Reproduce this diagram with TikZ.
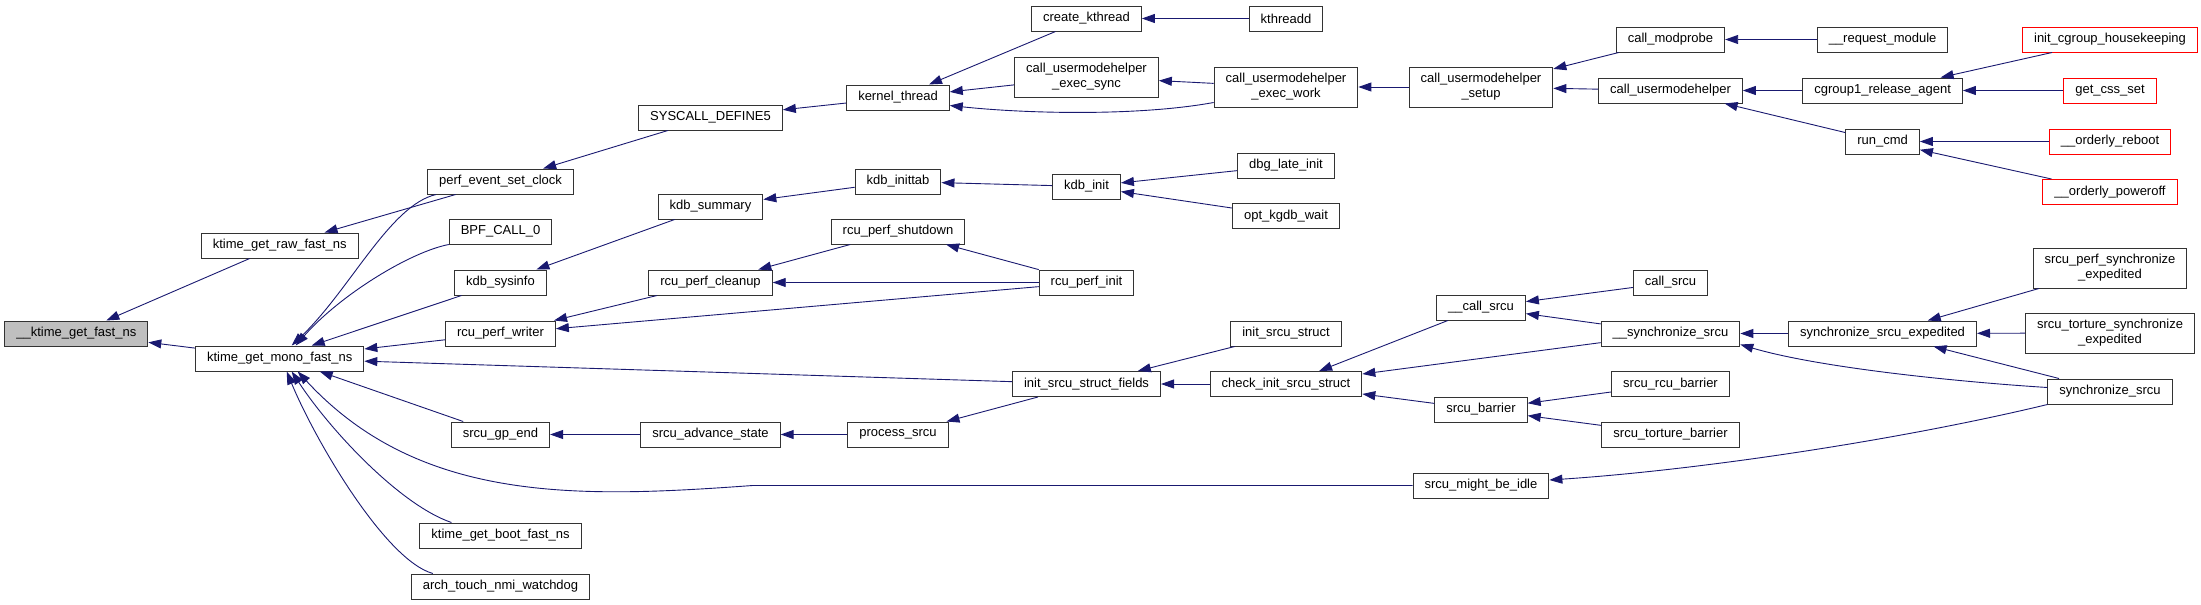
\documentclass[tikz,border=0pt]{standalone}
\usepackage{fontspec}
\setmainfont{Liberation Sans}
\usetikzlibrary{arrows.meta}
\definecolor{edgeblue}{RGB}{25,25,112}
\definecolor{rootgray}{RGB}{191,191,191}

\begin{document}
\begin{tikzpicture}[
            x=1pt, y=-1pt,
            fn/.style={rectangle, draw=black!80, line width=1pt, fill=white, minimum height=25pt, inner xsep=11.5pt, inner ysep=1pt, align=center, font=\fontsize{13}{15}\selectfont},
            root/.style={fn, fill=rootgray},
            trunc/.style={fn, draw=red},
            tall/.style={fn, minimum height=40pt},
            call/.style={-{Triangle[length=13pt,width=9pt]}, draw=edgeblue, line width=0.9pt}
        ]
            \useasboundingbox (0,0) rectangle (2201,605);

            \node[root] (fast) at (76.3,333.5) {\_\_ktime\_get\_fast\_ns};
            \node[fn] (raw) at (279.7,245.5) {ktime\_get\_raw\_fast\_ns};
            \node[fn] (mono) at (279.7,358.5) {ktime\_get\_mono\_fast\_ns};
            \node[fn] (perfclk) at (500.5,181.5) {perf\_event\_set\_clock};
            \node[fn] (bpf) at (500.5,231.5) {BPF\_CALL\_0};
            \node[fn] (sysinfo) at (500.5,282.5) {kdb\_sysinfo};
            \node[fn] (writer) at (500.5,333.5) {rcu\_perf\_writer};
            \node[fn] (gpend) at (500.5,434.5) {srcu\_gp\_end};
            \node[fn] (boot) at (500.5,535.5) {ktime\_get\_boot\_fast\_ns};
            \node[fn] (nmi) at (500.5,586.5) {arch\_touch\_nmi\_watchdog};
            \node[fn] (syscall) at (710.5,117.5) {SYSCALL\_DEFINE5};
            \node[fn] (summary) at (710.5,206.5) {kdb\_summary};
            \node[fn] (cleanup) at (710.5,282.5) {rcu\_perf\_cleanup};
            \node[fn] (advance) at (710.5,434.5) {srcu\_advance\_state};
            \node[fn] (kthread) at (898,97.5) {kernel\_thread};
            \node[fn] (inittab) at (898,181.5) {kdb\_inittab};
            \node[fn] (shutdown) at (898,231.5) {rcu\_perf\_shutdown};
            \node[fn] (process) at (898,434.5) {process\_srcu};
            \node[fn] (create) at (1086.5,18.5) {create\_kthread};
            \node[tall] (execsync) at (1086.5,77) {call\_usermodehelper\\\_exec\_sync};
            \node[fn] (kdbinit) at (1086.5,186.5) {kdb\_init};
            \node[fn] (perfinit) at (1086.5,282.5) {rcu\_perf\_init};
            \node[fn] (fields) at (1086.5,384) {init\_srcu\_struct\_fields};
            \node[fn] (kthreadd) at (1286,18.5) {kthreadd};
            \node[tall] (execwork) at (1286,87) {call\_usermodehelper\\\_exec\_work};
            \node[fn] (dbglate) at (1286,165.5) {dbg\_late\_init};
            \node[fn] (kgdbwait) at (1286,216) {opt\_kgdb\_wait};
            \node[fn] (initstruct) at (1286,333.5) {init\_srcu\_struct};
            \node[fn] (checkinit) at (1286,384) {check\_init\_srcu\_struct};
            \node[tall] (setup) at (1481,87) {call\_usermodehelper\\\_setup};
            \node[fn] (callsrcuint) at (1481,307.5) {\_\_call\_srcu};
            \node[fn] (barrier) at (1481,409.5) {srcu\_barrier};
            \node[fn] (idle) at (1481,485.5) {srcu\_might\_be\_idle};
            \node[fn] (modprobe) at (1670.5,39.5) {call\_modprobe};
            \node[fn] (umh) at (1670.5,90.5) {call\_usermodehelper};
            \node[fn] (callsrcu) at (1670.5,282.5) {call\_srcu};
            \node[fn] (syncint) at (1670.5,333.5) {\_\_synchronize\_srcu};
            \node[fn] (rcubarrier) at (1670.5,384) {srcu\_rcu\_barrier};
            \node[fn] (torbarrier) at (1670.5,434.5) {srcu\_torture\_barrier};
            \node[fn] (reqmod) at (1882.6,39.5) {\_\_request\_module};
            \node[fn] (release) at (1882.6,90.5) {cgroup1\_release\_agent};
            \node[fn] (runcmd) at (1882.6,141.5) {run\_cmd};
            \node[fn] (expedited) at (1882.6,333.5) {synchronize\_srcu\_expedited};
            \node[trunc] (housekeep) at (2110,39.5) {init\_cgroup\_housekeeping};
            \node[trunc] (cssset) at (2110,90.5) {get\_css\_set};
            \node[trunc] (reboot) at (2110,141.5) {\_\_orderly\_reboot};
            \node[trunc] (poweroff) at (2110,192) {\_\_orderly\_poweroff};
            \node[tall] (perfsync) at (2110,268) {srcu\_perf\_synchronize\\\_expedited};
            \node[tall] (tortsync) at (2110,333) {srcu\_torture\_synchronize\\\_expedited};
            \node[fn] (synchronize) at (2110,391.5) {synchronize\_srcu};

            \draw[call] (raw) -- (fast);
            \draw[call] (mono) -- (fast);
            \draw[call] (perfclk) -- (raw);
            \draw[call] ([xshift=9pt]perfclk.south west) .. controls (390,205) and (350,290) .. ([xshift=12pt]mono.north);
            \draw[call] (bpf.south west) .. controls (410,252) and (340,295) .. ([xshift=16pt]mono.north);
            \draw[call] (sysinfo) -- ([xshift=32pt]mono.north);
            \draw[call] (writer) -- (mono);
            \draw[call] (fields) -- (mono);
            \draw[call] (gpend) -- ([xshift=40pt]mono.south);
            \draw[call] (idle.west) -- ++(-660,0) .. controls (580,498) and (420,504) .. ([xshift=18pt]mono.south);
            \draw[call] ([xshift=32pt]boot.north west) .. controls (400,505) and (330,430) .. ([xshift=12pt]mono.south);
            \draw[call] ([xshift=22pt]nmi.north west) .. controls (385,560) and (315,440) .. ([xshift=7pt]mono.south);
            \draw[call] (syscall) -- (perfclk);
            \draw[call] (kthread) -- (syscall);
            \draw[call] (create) -- (kthread);
            \draw[call] (execsync) -- (kthread);
            \draw[call] ([yshift=5pt]execwork.south west) .. controls (1140,116) and (1030,114) .. ([yshift=5pt]kthread.south east);
            \draw[call] (kthreadd) -- (create);
            \draw[call] (execwork) -- (execsync);
            \draw[call] (setup) -- (execwork);
            \draw[call] (modprobe) -- (setup);
            \draw[call] (umh) -- (setup);
            \draw[call] (reqmod) -- (modprobe);
            \draw[call] (release) -- (umh);
            \draw[call] (runcmd) -- (umh);
            \draw[call] (housekeep) -- (release);
            \draw[call] (cssset) -- (release);
            \draw[call] (reboot) -- (runcmd);
            \draw[call] (poweroff) -- (runcmd);
            \draw[call] (summary) -- (sysinfo);
            \draw[call] (inittab) -- (summary);
            \draw[call] (kdbinit) -- (inittab);
            \draw[call] (dbglate) -- (kdbinit);
            \draw[call] (kgdbwait) -- (kdbinit);
            \draw[call] (cleanup) -- (writer);
            \draw[call] (perfinit) -- (writer);
            \draw[call] (shutdown) -- (cleanup);
            \draw[call] (perfinit) -- (cleanup);
            \draw[call] (perfinit) -- (shutdown);
            \draw[call] (initstruct) -- (fields);
            \draw[call] (checkinit) -- (fields);
            \draw[call] (fields) -- (process);
            \draw[call] (advance) -- (gpend);
            \draw[call] (process) -- (advance);
            \draw[call] (callsrcuint) -- (checkinit);
            \draw[call] (syncint) -- (checkinit);
            \draw[call] (barrier) -- (checkinit);
            \draw[call] (callsrcu) -- (callsrcuint);
            \draw[call] (syncint) -- (callsrcuint);
            \draw[call] (rcubarrier) -- (barrier);
            \draw[call] (torbarrier) -- (barrier);
            \draw[call] (expedited) -- (syncint);
            \draw[call] ([yshift=4pt]synchronize.west) .. controls (1960,382) and (1820,368) .. ([yshift=2pt]syncint.south east);
            \draw[call] (synchronize) -- (expedited);
            \draw[call] (synchronize.south west) .. controls (1900,440) and (1700,470) .. ([yshift=5.5pt]idle.east);
            \draw[call] (perfsync) -- (expedited);
            \draw[call] (tortsync) -- (expedited);
        \end{tikzpicture}
\end{document}
